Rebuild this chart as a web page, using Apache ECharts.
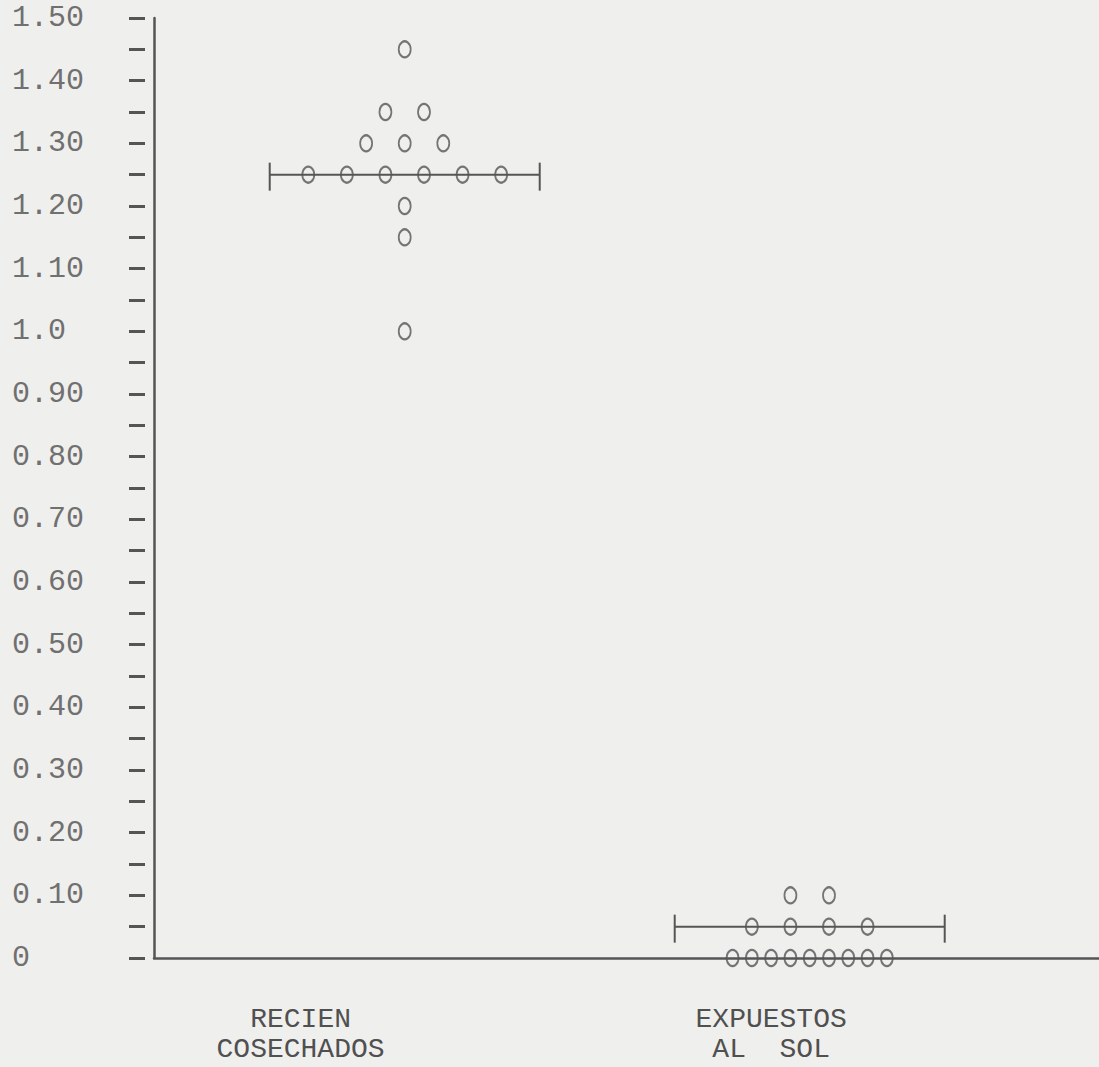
<!DOCTYPE html>
<html><head><meta charset="utf-8">
<script src="https://cdn.jsdelivr.net/npm/echarts@6/dist/echarts.min.js"></script>
<style>html,body{margin:0;padding:0;background:#efefed}#c{width:1099px;height:1067px}</style>
</head><body><div id="c"></div>
<script>
// ---- data ----
const categories = ['RECIEN\nCOSECHADOS', 'EXPUESTOS\nAL  SOL'];
const recienCosechados = [1.45, 1.35, 1.35, 1.30, 1.30, 1.30, 1.25, 1.25, 1.25, 1.25, 1.25, 1.25, 1.20, 1.15, 1.00];
const expuestosAlSol = [0.10, 0.10, 0.05, 0.05, 0.05, 0.05, 0, 0, 0, 0, 0, 0, 0, 0, 0];
const yTickLabels = ['0', '0.10', '0.20', '0.30', '0.40', '0.50', '0.60', '0.70', '0.80', '0.90', '1.0', '1.10', '1.20', '1.30', '1.40', '1.50'];
const groups = [recienCosechados, expuestosAlSol];

// ---- layout (typewriter columns) ----
const COLS = 49, groupCenters = [13, 34], labelCols = [7.6, 32], barHalf = 7, ROW = 0.05;
const FONT = 'Liberation Mono, DejaVu Sans Mono, monospace';
const INK = '#555';

// stack points of equal value side by side, as a typewriter dot plot does
const points = [];
const bars = [];
groups.forEach((vals, g) => {
  const byVal = {};
  vals.forEach(v => { const k = v.toFixed(2); (byVal[k] = byVal[k] || []).push(v); });
  Object.keys(byVal).forEach(k => {
    const n = byVal[k].length;
    const step = n > 6 ? 1 : 2;
    byVal[k].forEach((v, i) => points.push([groupCenters[g] + (i - (n - 1) / 2) * step, v]));
  });
  const mean = vals.reduce((a, b) => a + b, 0) / vals.length;
  bars.push([groupCenters[g], Math.round(mean / ROW) * ROW]);
});

const chart = echarts.init(document.getElementById('c'), null, {renderer: 'svg'});
chart.setOption({
  backgroundColor: '#efefed',
  animation: false,
  grid: {left: 154, right: 0, top: 18, bottom: 109, containLabel: false},
  xAxis: {
    type: 'value', min: 0, max: COLS,
    axisLine: {show: true, lineStyle: {color: INK, width: 2.5}},
    axisTick: {show: false},
    splitLine: {show: false},
    axisLabel: {
      customValues: labelCols,
      formatter: v => { const i = labelCols.findIndex(c => Math.abs(c - v) < 1e-6); return i >= 0 ? categories[i] : ''; },
      fontFamily: FONT, fontSize: 28, lineHeight: 30, color: '#505050', margin: 46
    }
  },
  yAxis: [{
    type: 'value', min: 0, max: 1.5, interval: 0.1,
    axisLine: {show: true, lineStyle: {color: INK, width: 2.5}},
    axisTick: {show: false},
    splitLine: {show: false},
    axisLabel: {
      align: 'left', margin: 142, fontFamily: FONT, fontSize: 30, color: '#707070',
      formatter: v => yTickLabels[Math.round(v / 0.1)]
    }
  }, {
    type: 'value', min: 0, max: 1.5, interval: 0.05, position: 'left', offset: 9,
    axisLine: {show: false},
    axisTick: {show: true, length: 16, lineStyle: {color: INK, width: 3}},
    axisLabel: {show: false},
    splitLine: {show: false}
  }],
  series: [{
    type: 'custom',
    silent: true,
    data: bars,
    z: 1,
    renderItem: (params, api) => {
      const c = api.value(0), y = api.value(1);
      const p1 = api.coord([c - barHalf, y]), p2 = api.coord([c + barHalf, y]);
      const st = {stroke: INK, lineWidth: 2, fill: null};
      return {type: 'group', children: [
        {type: 'line', shape: {x1: p1[0], y1: p1[1], x2: p2[0], y2: p2[1]}, style: st},
        {type: 'line', shape: {x1: p1[0], y1: p1[1] - 12, x2: p1[0], y2: p1[1] + 16}, style: st},
        {type: 'line', shape: {x1: p2[0], y1: p2[1] - 12, x2: p2[0], y2: p2[1] + 16}, style: st}
      ]};
    }
  }, {
    type: 'scatter',
    silent: true,
    z: 2,
    data: points,
    symbol: 'circle',
    symbolSize: [12, 16],
    itemStyle: {color: 'rgba(0,0,0,0)', borderColor: INK, borderWidth: 2}
  }]
});
</script>
</body></html>
